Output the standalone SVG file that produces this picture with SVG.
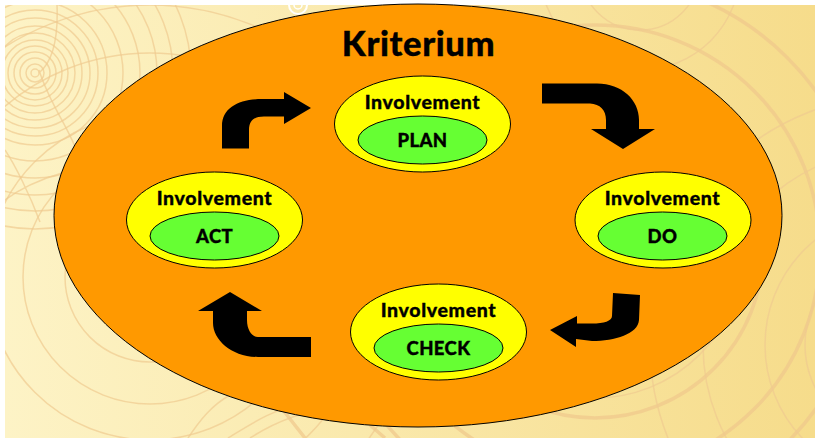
<svg xmlns="http://www.w3.org/2000/svg" width="815" height="438" viewBox="0 0 815 438">
<style>
.r{fill:none;stroke:#efcb90;stroke-width:1.500;opacity:.7}
.t{fill:none;stroke:#efc88c;stroke-width:3.500;opacity:.7}
.o{fill:#ff9900;stroke:#000;stroke-width:1}
.y{fill:#ffff00;stroke:#000;stroke-width:1}
.g{fill:#66ff33;stroke:#000;stroke-width:1}
text{font-family:"Lato","Liberation Sans",sans-serif;font-weight:900;fill:#000;stroke:#000;stroke-width:.35px;text-anchor:middle}
.l{font-size:19.500px;letter-spacing:.65px}
.s{font-size:18.500px;letter-spacing:.4px}
.a{fill:#000}
</style>
<defs>
<linearGradient id="bg" x1="0" y1="0" x2="1" y2="0"><stop offset="0" stop-color="#fdf3c6"/><stop offset="1" stop-color="#f6dc8b"/></linearGradient>
<clipPath id="c"><rect x="5" y="5" width="810" height="433"/></clipPath>
</defs>
<rect width="815" height="438" fill="#fff"/>
<g id="background" clip-path="url(#c)">
<rect x="5" y="5" width="810" height="433" fill="url(#bg)"/>
<g transform="translate(35 73)"><circle class="r" r="4"/><circle class="r" r="9"/><circle class="r" r="15"/><circle class="r" r="21"/><circle class="r" r="27"/><circle class="r" r="33"/><circle class="r" r="40"/><circle class="r" r="47"/><circle class="r" r="55"/><circle class="r" r="63"/><circle class="r" r="72"/><circle class="r" r="88"/><circle class="r" r="105"/><circle class="r" r="122"/><circle class="r" r="138"/><circle class="r" r="156"/></g>
<g transform="translate(150 277)"><circle class="r" r="85"/><circle class="r" r="127"/><circle class="r" r="163"/><circle class="r" r="224"/><circle class="r" r="272"/></g>
<path class="r" d="M39 70C50 105 70 130 76 150M57 5C58 30 55 60 39 73M5 150C15 165 30 195 40 222M5 200C25 185 45 178 62 173"/>
<g transform="translate(298 5)"><circle r="9" fill="none" stroke="#fff" stroke-width="2"/><circle r="4" fill="none" stroke="#fff" stroke-width="1.500"/></g>
<g transform="translate(595 250)"><circle class="t" r="168"/><circle class="t" r="225"/><circle class="r" r="148"/><circle class="t" r="272"/></g>
<g transform="translate(640 -30)"><circle class="r" r="60"/><circle class="r" r="100"/></g>
<g transform="translate(900 345)"><circle class="r" r="95"/><circle class="r" r="135"/><circle class="r" r="197"/><circle class="r" r="250"/></g>
<path class="t" d="M283 410L305 438M370 425L385 438"/>
<path class="r" d="M188 438C200 420 212 405 230 395M228 438C250 425 270 410 300 405M250 438C275 422 300 412 330 408"/>
</g>
<ellipse id="kriterium-bg" class="o" cx="418" cy="215.500" rx="364" ry="211.500"/>
<text id="title" x="418.500" y="55.500" font-size="34.500" letter-spacing=".6">Kriterium</text>
<g id="connectors">
<path class="a" d="M222 148.500V126C222 107 240 99 262 99H284V92L311 108L284 124V116.500H264C254 116.500 249 121 249 130V148.500Z"/>
<path class="a" d="M542 83.500H597C622 83.500 639 100 639 120V129H655L623 149L591 129H606V120C606 110 600 104 590 103.500H542Z"/>
<path class="a" d="M613 293L640 295L639 320C638 334 615 341 592 341L576 339V347L550 330L577 316V323.500L592 323.500C604 323.500 612 321 612 316Z"/>
<path class="a" d="M311 337V357H258C232 357 213 340 213 323V311H198L230 292L262 311H247V320C247 330 252 337 258 337Z"/>
</g>
<g id="plan"><ellipse class="y" cx="422.500" cy="124" rx="88" ry="48"/><ellipse class="g" cx="422.500" cy="140" rx="64.500" ry="24"/><text class="l" x="422.500" y="109">Involvement</text><text class="s" x="422.500" y="147">PLAN</text></g>
<g id="do"><ellipse class="y" cx="663" cy="220" rx="88" ry="48"/><ellipse class="g" cx="662.500" cy="236" rx="64.500" ry="24"/><text class="l" x="662.500" y="205">Involvement</text><text class="s" x="662.500" y="243">DO</text></g>
<g id="check"><ellipse class="y" cx="438.500" cy="332" rx="88" ry="48"/><ellipse class="g" cx="438.500" cy="348" rx="64.500" ry="24"/><text class="l" x="438.500" y="317">Involvement</text><text class="s" x="438.500" y="355">CHECK</text></g>
<g id="act"><ellipse class="y" cx="214.500" cy="220" rx="88" ry="48"/><ellipse class="g" cx="214.500" cy="236" rx="64.500" ry="24"/><text class="l" x="214.500" y="205">Involvement</text><text class="s" x="214.500" y="243">ACT</text></g>
</svg>
